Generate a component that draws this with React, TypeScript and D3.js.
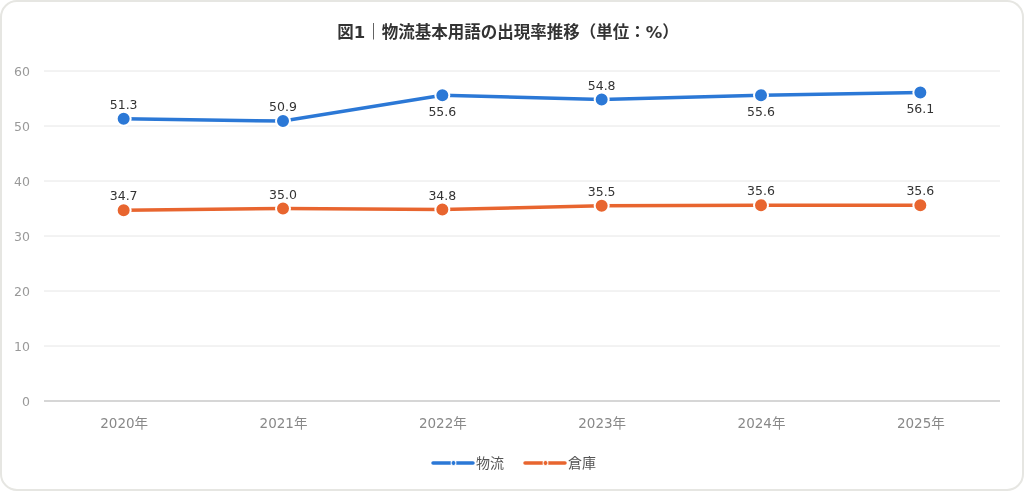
import { useEffect, useRef } from "react";
import * as d3 from "d3";

const years = ["2020年", "2021年", "2022年", "2023年", "2024年", "2025年"];
const butsuryu = [51.3, 50.9, 55.6, 54.8, 55.6, 56.1];
const souko = [34.7, 35.0, 34.8, 35.5, 35.6, 35.6];
// label above (-1) or below (1) the point
const butsuryuLabelSide = [-1, -1, 1, -1, 1, 1];
const yTicks = [0, 10, 20, 30, 40, 50, 60];

const W = 1024;
const H = 491;
const FONT = "'DejaVu Sans', 'Noto Sans CJK JP', sans-serif";

const series = [
  { name: "物流", values: butsuryu, color: "#2b78d6", sides: butsuryuLabelSide },
  { name: "倉庫", values: souko, color: "#e8652f", sides: souko.map(() => -1) },
];

export default function App() {
  const svgRef = useRef<SVGSVGElement>(null);

  useEffect(() => {
    if (!svgRef.current) return;
    const svg = d3.select(svgRef.current);
    svg.selectAll("*").remove();

    const margin = { top: 71, right: 24, bottom: 90, left: 44 };
    const width = W - margin.left - margin.right;
    const height = H - margin.top - margin.bottom;

    // card
    svg
      .append("rect")
      .attr("x", 1)
      .attr("y", 1)
      .attr("width", W - 2)
      .attr("height", H - 2)
      .attr("rx", 16)
      .attr("fill", "#fff")
      .attr("stroke", "#e6e6e2")
      .attr("stroke-width", 2);

    svg
      .append("text")
      .attr("x", W / 2 - 4)
      .attr("y", 38)
      .attr("text-anchor", "middle")
      .attr("font-family", FONT)
      .attr("font-size", 16.5)
      .attr("font-weight", "bold")
      .attr("fill", "#333")
      .text("図1｜物流基本用語の出現率推移（単位：%）");

    const g = svg
      .append("g")
      .attr("transform", `translate(${margin.left},${margin.top})`);

    const x = d3.scalePoint<string>().domain(years).range([0, width]).padding(0.5);
    const y = d3.scaleLinear().domain([0, 60]).range([height, 0]);

    // gridlines
    g.append("g")
      .selectAll("line")
      .data(yTicks)
      .join("line")
      .attr("x1", 0)
      .attr("x2", width)
      .attr("y1", (d) => y(d))
      .attr("y2", (d) => y(d))
      .attr("stroke", (d) => (d === 0 ? "#c8c8c8" : "#e6e6e6"))
      .attr("stroke-width", (d) => (d === 0 ? 1.5 : 1));

    // Y axis labels
    g.append("g")
      .call(d3.axisLeft(y).tickValues(yTicks).tickSize(0))
      .call((axis) => {
        axis.select(".domain").remove();
        axis
          .selectAll(".tick text")
          .attr("font-family", FONT)
          .attr("font-size", 12.5)
          .attr("fill", "#999")
          .attr("x", -14);
      });

    // X axis labels
    g.append("g")
      .attr("transform", `translate(0,${height})`)
      .call(d3.axisBottom(x).tickSize(0))
      .call((axis) => {
        axis.select(".domain").remove();
        axis
          .selectAll(".tick text")
          .attr("font-family", FONT)
          .attr("font-size", 13.5)
          .attr("fill", "#888")
          .attr("dy", "1.75em");
      });

    const line = d3
      .line<number>()
      .x((_, i) => x(years[i]) as number)
      .y((d) => y(d));

    series.forEach((s) => {
      g.append("path")
        .datum(s.values)
        .attr("fill", "none")
        .attr("stroke", s.color)
        .attr("stroke-width", 3.5)
        .attr("d", line);

      g.append("g")
        .selectAll("circle")
        .data(s.values)
        .join("circle")
        .attr("cx", (_, i) => x(years[i]) as number)
        .attr("cy", (d) => y(d))
        .attr("r", 7)
        .attr("fill", s.color)
        .attr("stroke", "#fff")
        .attr("stroke-width", 2);

      g.append("g")
        .selectAll("text")
        .data(s.values)
        .join("text")
        .attr("x", (_, i) => x(years[i]) as number)
        .attr("y", (d, i) => y(d) + (s.sides[i] < 0 ? -10 : 21))
        .attr("text-anchor", "middle")
        .attr("font-family", FONT)
        .attr("font-size", 12.5)
        .attr("fill", "#333")
        .text((d) => d.toFixed(1));
    });

    // legend
    const legend = svg.append("g").attr("transform", `translate(${W / 2}, 463)`);
    const items = legend
      .selectAll("g")
      .data(series)
      .join("g")
      .attr("transform", (_, i) => `translate(${i === 0 ? -79 : 13},0)`);
    items
      .append("line")
      .attr("x1", 0)
      .attr("x2", 17)
      .attr("stroke", (d) => d.color)
      .attr("stroke-width", 3.5)
      .attr("stroke-linecap", "round");
    items
      .append("line")
      .attr("x1", 24)
      .attr("x2", 40)
      .attr("stroke", (d) => d.color)
      .attr("stroke-width", 3.5)
      .attr("stroke-linecap", "round");
    items
      .append("circle")
      .attr("cx", 20.5)
      .attr("cy", 0)
      .attr("r", 2.5)
      .attr("fill", (d) => d.color)
      .attr("stroke", "#fff")
      .attr("stroke-width", 1);
    items
      .append("text")
      .attr("x", 43)
      .attr("y", 5)
      .attr("font-family", FONT)
      .attr("font-size", 14)
      .attr("fill", "#555")
      .text((d) => d.name);
  }, []);

  return (
    <div style={{ position: "fixed", left: 0, top: 0 }}>
      <svg ref={svgRef} width={W} height={H} style={{ display: "block" }} />
    </div>
  );
}
